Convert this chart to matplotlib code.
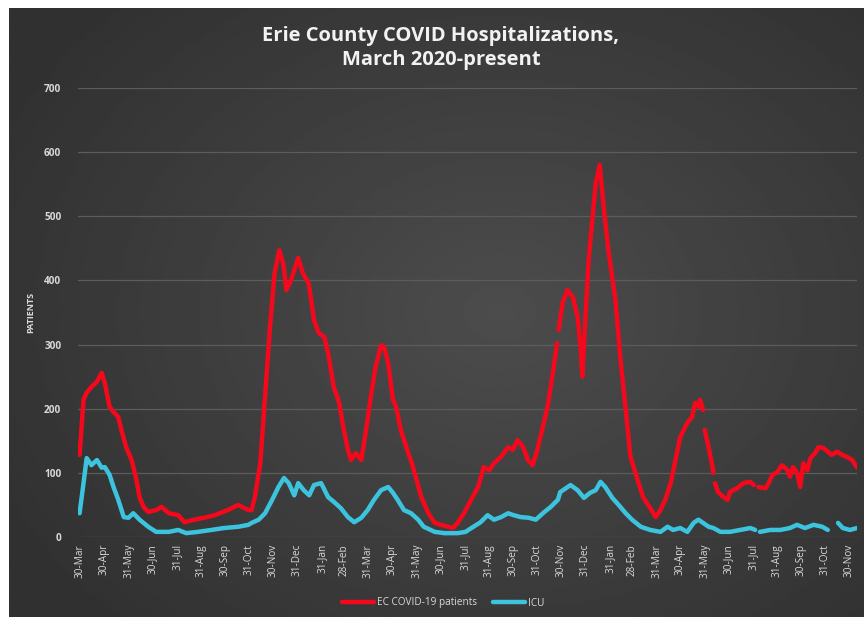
import numpy as np
import pandas as pd
import matplotlib
matplotlib.use("Agg")
from matplotlib import pyplot as plt

plt.rcParams['font.family'] = ['Open Sans', 'DejaVu Sans']

# EC COVID-19 patients (None = gap in the reported series)
red_dates = ['2020-03-30', '2020-04-04', '2020-04-08', '2020-04-14', '2020-04-21', '2020-04-27',
             '2020-05-01', '2020-05-07', '2020-05-12', '2020-05-18', '2020-05-22', '2020-05-28',
             '2020-06-04', '2020-06-10', '2020-06-14', '2020-06-19', '2020-06-25', '2020-07-05',
             '2020-07-12', '2020-07-21', '2020-08-02', '2020-08-10', '2020-08-22', '2020-09-04',
             '2020-09-17', '2020-10-04', '2020-10-17', '2020-10-30', '2020-11-03', '2020-11-07',
             '2020-11-14', '2020-11-20', '2020-11-26', '2020-12-02', '2020-12-08', '2020-12-13',
             '2020-12-17', '2020-12-23', '2021-01-01', '2021-01-07', '2021-01-14', '2021-01-17',
             '2021-01-21', '2021-01-27', '2021-02-03', '2021-02-08', '2021-02-15', '2021-02-22',
             '2021-02-27', '2021-03-05', '2021-03-09', '2021-03-15', '2021-03-22', '2021-03-28',
             '2021-04-03', '2021-04-09', '2021-04-16', '2021-04-20', '2021-04-25', '2021-05-01',
             '2021-05-05', '2021-05-11', '2021-05-18', '2021-05-25', '2021-05-31', '2021-06-06',
             '2021-06-15', '2021-06-23', '2021-07-01', '2021-07-10', '2021-07-16', '2021-07-22',
             '2021-07-30', '2021-08-08', '2021-08-17', '2021-08-24', '2021-08-31', '2021-09-06',
             '2021-09-15', '2021-09-24', '2021-09-30', '2021-10-06', '2021-10-13', '2021-10-19',
             '2021-10-25', '2021-10-31', '2021-11-07', '2021-11-13', '2021-11-19', '2021-11-25',
             '2021-11-26', '2021-11-27', '2021-12-02', '2021-12-08', '2021-12-15', '2021-12-21',
             '2021-12-25', '2021-12-27', '2021-12-31', '2022-01-04', '2022-01-09', '2022-01-13',
             '2022-01-18', '2022-01-23', '2022-01-29', '2022-02-07', '2022-02-13', '2022-02-20',
             '2022-02-26', '2022-03-07', '2022-03-14', '2022-03-23', '2022-03-30', '2022-04-05',
             '2022-04-11', '2022-04-18', '2022-04-24', '2022-04-30', '2022-05-09', '2022-05-15',
             '2022-05-19', '2022-05-24', '2022-05-25', '2022-05-29', '2022-05-30', '2022-05-31',
             '2022-06-05', '2022-06-10', '2022-06-11', '2022-06-12', '2022-06-13', '2022-06-17',
             '2022-06-24', '2022-06-29', '2022-07-02', '2022-07-11', '2022-07-19', '2022-07-28',
             '2022-08-01', '2022-08-04', '2022-08-07', '2022-08-16', '2022-08-20', '2022-08-25',
             '2022-08-31', '2022-09-06', '2022-09-13', '2022-09-16', '2022-09-20', '2022-09-25',
             '2022-09-29', '2022-10-03', '2022-10-08', '2022-10-12', '2022-10-18', '2022-10-22',
             '2022-10-28', '2022-11-03', '2022-11-08', '2022-11-15', '2022-11-21', '2022-11-27',
             '2022-12-04', '2022-12-10']
red_vals = [128, 214, 225, 234, 242, 256,
            240, 203, 195, 187, 167, 140,
            120, 89, 62, 47, 39, 42,
            47, 37, 34, 23, 27, 30,
            34, 42, 50, 42, 42, 62,
            115, 218, 323, 411, 447, 427,
            385, 401, 435, 411, 396, 374,
            338, 318, 312, 287, 234, 209,
            172, 136, 120, 131, 120, 167,
            218, 265, 299, 296, 271, 214,
            203, 167, 140, 115, 89, 62,
            37, 22, 19, 16, 14, 22,
            37, 58, 78, 109, 104, 115,
            125, 140, 136, 151, 140, 120,
            112, 136, 172, 203, 250, 302,
            None, 323, 365, 385, 374, 343,
            292, 250, 343, 432, 499, 552,
            580, 515, 447, 369, 281, 198,
            125, 89, 62, 45, 31, 42,
            58, 84, 120, 156, 178, 187,
            209, 203, 214, 198, None, 167,
            140, 109, 100, None, 84, 70,
            62, 58, 70, 76, 84, 86,
            81, None, 78, 76, 84, 97,
            101, 112, 104, 94, 109, 100,
            78, 115, 104, 123, 131, 140,
            139, 133, 128, 133, 128, 125,
            120, 108]

# ICU
icu_dates = ['2020-03-30', '2020-04-04', '2020-04-08', '2020-04-14', '2020-04-21', '2020-04-27',
             '2020-05-01', '2020-05-07', '2020-05-12', '2020-05-18', '2020-05-25', '2020-05-31',
             '2020-06-06', '2020-06-14', '2020-06-25', '2020-07-05', '2020-07-21', '2020-08-02',
             '2020-08-12', '2020-08-27', '2020-09-13', '2020-09-29', '2020-10-17', '2020-10-30',
             '2020-11-03', '2020-11-12', '2020-11-20', '2020-11-29', '2020-12-07', '2020-12-14',
             '2020-12-20', '2020-12-27', '2021-01-01', '2021-01-08', '2021-01-15', '2021-01-21',
             '2021-01-30', '2021-02-08', '2021-02-15', '2021-02-24', '2021-03-05', '2021-03-13',
             '2021-03-22', '2021-03-30', '2021-04-07', '2021-04-16', '2021-04-25', '2021-05-01',
             '2021-05-07', '2021-05-15', '2021-05-24', '2021-06-02', '2021-06-09', '2021-06-23',
             '2021-07-05', '2021-07-22', '2021-08-01', '2021-08-11', '2021-08-20', '2021-08-29',
             '2021-09-06', '2021-09-15', '2021-09-24', '2021-10-01', '2021-10-10', '2021-10-20',
             '2021-10-29', '2021-11-07', '2021-11-17', '2021-11-26', '2021-11-29', '2021-12-12',
             '2021-12-21', '2021-12-29', '2022-01-06', '2022-01-13', '2022-01-19', '2022-01-25',
             '2022-02-03', '2022-02-11', '2022-02-20', '2022-02-28', '2022-03-11', '2022-03-23',
             '2022-04-05', '2022-04-14', '2022-04-21', '2022-04-30', '2022-05-09', '2022-05-17',
             '2022-05-23', '2022-05-29', '2022-06-05', '2022-06-11', '2022-06-20', '2022-07-02',
             '2022-07-15', '2022-07-28', '2022-08-03', '2022-08-06', '2022-08-09', '2022-08-22',
             '2022-09-04', '2022-09-16', '2022-09-25', '2022-10-05', '2022-10-16', '2022-10-27',
             '2022-11-03', '2022-11-09', '2022-11-16', '2022-11-22', '2022-12-01', '2022-12-10']
icu_vals = [37, 84, 123, 112, 120, 108,
            109, 97, 78, 58, 31, 30,
            37, 27, 16, 8, 8, 11,
            6, 8, 11, 14, 16, 19,
            22, 27, 37, 58, 78, 92,
            84, 65, 84, 73, 65, 81,
            84, 62, 55, 45, 31, 23,
            30, 42, 58, 73, 78, 69,
            58, 42, 37, 27, 16, 8,
            6, 6, 8, 16, 23, 34,
            27, 31, 37, 34, 31, 30,
            27, 37, 47, 58, 70, 81,
            73, 61, 69, 73, 86, 78,
            61, 50, 37, 27, 16, 11,
            8, 16, 11, 14, 8, 22,
            27, 22, 16, 14, 8, 8,
            11, 14, 11, None, 8, 11,
            11, 14, 19, 14, 19, 16,
            11, None, 22, 14, 11, 14]

tick_dates = ['2020-03-30', '2020-04-30', '2020-05-31', '2020-06-30', '2020-07-31', '2020-08-31',
              '2020-09-30', '2020-10-31', '2020-11-30', '2020-12-31', '2021-01-31', '2021-02-28',
              '2021-03-31', '2021-04-30', '2021-05-31', '2021-06-30', '2021-07-31', '2021-08-31',
              '2021-09-30', '2021-10-31', '2021-11-30', '2021-12-31', '2022-01-31', '2022-02-28',
              '2022-03-31', '2022-04-30', '2022-05-31', '2022-06-30', '2022-07-31', '2022-08-31',
              '2022-09-30', '2022-10-31', '2022-11-30']

red_x = pd.to_datetime(red_dates)
red_y = np.array(red_vals, dtype=float)
icu_x = pd.to_datetime(icu_dates)
icu_y = np.array(icu_vals, dtype=float)
ticks = pd.to_datetime(tick_dates)

txt = '#d9d9d9'
fig = plt.figure(figsize=(8.64, 6.18), dpi=100, facecolor='white')

# dark gradient chart area
bg = fig.add_axes([9/864, 1/618, 855/864, 609/618], zorder=0)
gx, gy = np.meshgrid(np.linspace(-1, 1, 300), np.linspace(-1, 1, 220))
r = np.sqrt(((gx - 0.15) / 1.1) ** 2 + (gy / 1.2) ** 2)
shade = np.clip(0.30 - 0.09 * r, 0.19, 0.30)
bg.imshow(shade, cmap='gray', vmin=0, vmax=1, aspect='auto', interpolation='bilinear')
bg.axis('off')

ax = fig.add_axes([78/864, 1 - 537/618, 779/864, 449/618], zorder=1)
ax.patch.set_alpha(0)
ax.plot(red_x, red_y, color='#f5081c', lw=3.2, solid_capstyle='round', label='EC COVID-19 patients')
ax.plot(icu_x, icu_y, color='#3cc4de', lw=3.2, solid_capstyle='round', label='ICU')

ax.set_ylim(0, 700)
ax.set_xlim(pd.Timestamp('2020-03-28'), pd.Timestamp('2022-12-10'))
ax.set_yticks(range(0, 701, 100))
ax.set_xticks(ticks)
ax.set_xticklabels([t.strftime('%-d-%b') for t in ticks], rotation=90, fontsize=7.2, color=txt)
ax.tick_params(axis='y', labelsize=7.2, labelcolor=txt, length=0, pad=12)
ax.tick_params(axis='x', length=0, pad=5)
for lab in ax.get_yticklabels():
    lab.set_fontweight('bold')
ax.grid(axis='y', color='#5c5c5c', lw=0.9)
ax.set_axisbelow(True)
for s in ax.spines.values():
    s.set_visible(False)
ax.set_ylabel('PATIENTS', fontsize=6.5, fontweight='bold', color=txt, labelpad=6)

fig.text(441/864, 1 - 48/618, 'Erie County COVID Hospitalizations,\nMarch 2020-present',
         ha='center', va='center', fontsize=14.5, fontweight='bold', color='#f2f2f2', linespacing=1.25)

leg = ax.legend(loc='center', bbox_to_anchor=(443/864, 1 - 603/618), bbox_transform=fig.transFigure,
                ncol=2, frameon=False, fontsize=7.2, handlelength=3.2, columnspacing=1.6,
                handletextpad=0.3)
for t in leg.get_texts():
    t.set_color(txt)

fig.savefig('out.png', dpi=100, facecolor=fig.get_facecolor())
